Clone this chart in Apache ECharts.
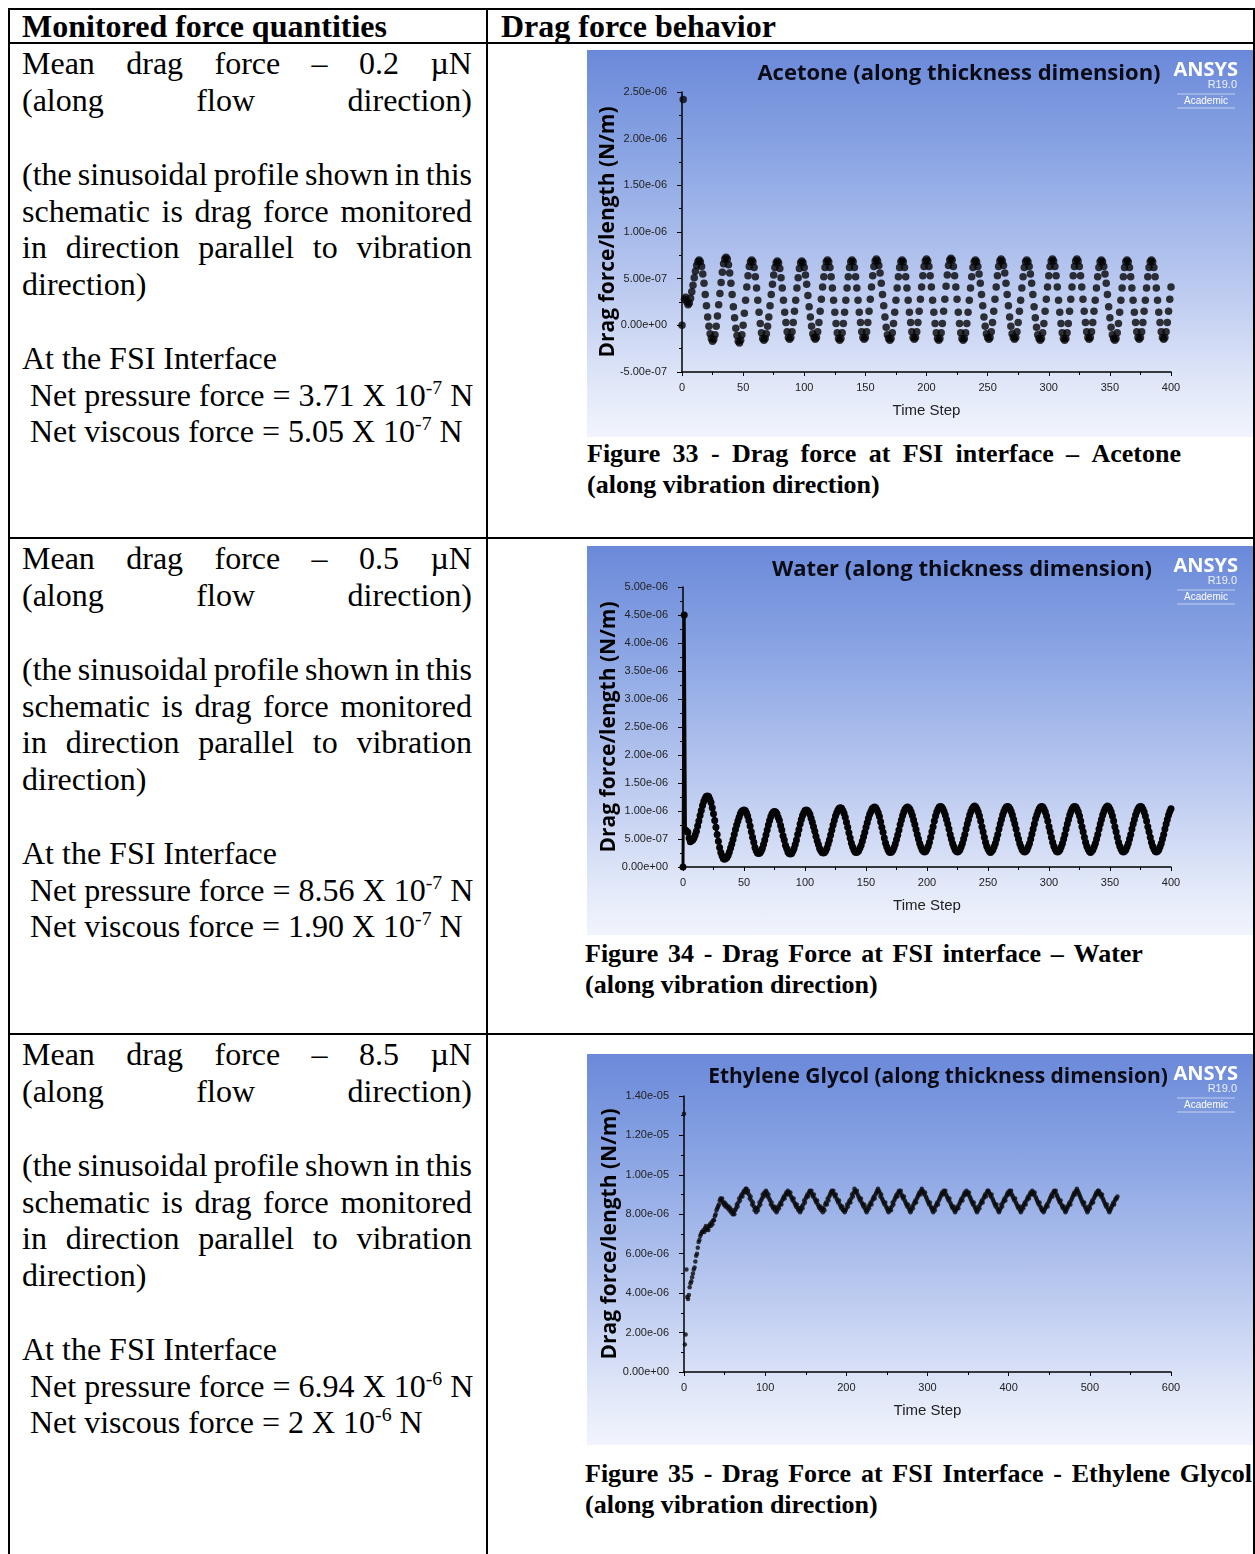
<!DOCTYPE html>
<html>
<head>
<meta charset="utf-8">
<title>Drag force behavior</title>
<script src="https://cdn.jsdelivr.net/npm/echarts/dist/echarts.min.js"></script>
<style>
html,body{margin:0;padding:0;background:#fff;}
body{position:relative;width:1255px;height:1554px;overflow:hidden;font-family:"Liberation Serif","Times New Roman",serif;color:#000;}
.rule{position:absolute;background:#000;z-index:5;}
.ln{position:absolute;white-space:nowrap;font-size:32px;height:37px;line-height:37px;}
.ln.j,.cap.j{display:flex;justify-content:space-between;}
.hd{font-weight:bold;}
.cap{position:absolute;white-space:nowrap;font-weight:bold;font-size:26px;height:30px;line-height:30px;}
sup{font-size:62%;line-height:0;vertical-align:0.62em;}
.panel{position:absolute;left:587px;width:667px;background:linear-gradient(180deg,#6a89d9 0%,#8ca6e4 28%,#b9c8ef 60%,#e3e9f9 88%,#f1f4fc 100%);}
</style>
</head>
<body>
<div class="panel" id="acetone" style="top:50px;height:387px"></div>
<div class="panel" id="water" style="top:546px;height:389px"></div>
<div class="panel" id="glycol" style="top:1054px;height:391px"></div>
<script>
// Drag force per unit length, one value per time step.
// acetone and water in units of 1e-8 N/m, ethylene glycol in units of 1e-7 N/m.
const acetone = [
  0, 242, 28, 30, 25, 22, 24, 29, 36, 43, 51, 58, 64, 68, 70,
  68, 63, 55, 45, 33, 21, 9, -1, -9, -14, -17,
  -15, -10, -1, 10, 22, 34, 46, 57, 66, 71, 73,
  71, 65, 56, 45, 33, 20, 8, -3, -11, -17, -19,
  -16, -10, 0, 13, 27, 41, 53, 63, 68, 70,
  68, 62, 52, 40, 27, 14, 2, -8, -14, -16,
  -14, -9, -1, 9, 21, 33, 44, 54, 62, 67, 69,
  67, 61, 51, 40, 27, 14, 3, -7, -13, -15,
  -13, -7, 3, 15, 27, 40, 51, 61, 67, 69,
  67, 62, 54, 44, 32, 20, 9, -1, -9, -13, -15,
  -13, -7, 3, 15, 28, 41, 52, 62, 68, 70,
  68, 62, 52, 40, 27, 14, 2, -8, -14, -16,
  -14, -8, 2, 14, 27, 40, 52, 62, 68, 70,
  68, 62, 52, 40, 27, 14, 3, -7, -13, -15,
  -13, -7, 3, 15, 28, 41, 53, 63, 69, 71,
  69, 64, 56, 45, 33, 21, 9, -2, -10, -14, -16,
  -14, -8, 2, 14, 27, 40, 52, 62, 68, 70,
  68, 62, 52, 40, 27, 14, 3, -7, -13, -15,
  -13, -7, 3, 15, 28, 41, 53, 63, 69, 71,
  69, 63, 53, 41, 27, 14, 2, -8, -14, -16,
  -14, -8, 2, 15, 28, 42, 54, 64, 70, 72,
  70, 63, 53, 41, 28, 14, 2, -8, -14, -16,
  -14, -8, 2, 14, 27, 40, 52, 62, 68, 70,
  68, 63, 55, 45, 33, 21, 9, -1, -9, -13, -15,
  -13, -7, 3, 15, 28, 41, 53, 63, 69, 71,
  69, 64, 56, 45, 33, 21, 9, -1, -9, -13, -15,
  -13, -7, 3, 15, 27, 40, 52, 62, 68, 70,
  68, 63, 55, 45, 33, 20, 8, -2, -10, -14, -16,
  -14, -8, 2, 15, 28, 41, 53, 63, 69, 71,
  69, 63, 53, 41, 27, 14, 2, -8, -14, -16,
  -14, -8, 2, 15, 28, 41, 53, 63, 69, 71,
  69, 63, 53, 41, 28, 15, 3, -7, -13, -15,
  -13, -7, 3, 15, 27, 40, 52, 62, 68, 70,
  68, 63, 55, 45, 33, 20, 8, -2, -10, -14, -16,
  -14, -8, 2, 14, 27, 40, 52, 62, 68, 70,
  68, 62, 52, 40, 27, 14, 3, -7, -13, -15,
  -13, -7, 3, 15, 27, 40, 52, 62, 68, 70,
  68, 62, 52, 40, 27, 14, 3, -7, -13, -15,
  -13, -7, 3, 15, 28, 41
];

const water = [
  0, 450, 66, 64, 62, 52, 45, 47,
  48, 52, 57, 64, 73, 82, 92, 101, 110, 117, 122, 126, 127,
  126, 121, 115, 106, 95, 83, 71, 58, 46, 35, 26, 20, 15, 14,
  15, 17, 21, 27, 34, 41, 49, 58, 67, 75, 82, 89, 95, 99, 101, 102,
  101, 97, 91, 83, 73, 63, 53, 44, 35, 29, 25, 24,
  25, 28, 33, 40, 48, 57, 66, 75, 83, 90, 95, 98, 99,
  98, 95, 89, 83, 74, 66, 56, 48, 39, 33, 27, 24, 23,
  24, 28, 33, 40, 48, 58, 67, 77, 85, 92, 97, 101, 102,
  101, 98, 94, 87, 80, 72, 64, 55, 47, 40, 33, 29, 26, 25,
  26, 29, 34, 41, 48, 57, 66, 75, 83, 91, 97, 102, 105, 106,
  105, 101, 96, 89, 80, 71, 61, 52, 43, 36, 31, 27, 26,
  27, 29, 34, 39, 46, 54, 62, 71, 79, 87, 94, 99, 104, 106, 107,
  106, 102, 97, 90, 81, 71, 62, 52, 43, 36, 31, 27, 26,
  27, 30, 35, 41, 49, 57, 66, 76, 84, 92, 98, 103, 106, 107,
  106, 103, 98, 92, 84, 76, 67, 58, 50, 42, 36, 31, 28, 27,
  28, 32, 37, 44, 53, 63, 72, 82, 91, 98, 103, 107, 108,
  107, 104, 99, 93, 85, 77, 68, 58, 50, 42, 36, 31, 28, 27,
  28, 31, 36, 42, 50, 58, 68, 77, 85, 93, 99, 104, 107, 109,
  107, 103, 98, 91, 82, 72, 63, 53, 44, 37, 32, 28, 26,
  28, 31, 36, 42, 50, 58, 68, 77, 85, 93, 99, 104, 107, 108,
  107, 104, 99, 93, 85, 77, 68, 58, 50, 42, 36, 31, 28, 27,
  28, 31, 36, 42, 50, 59, 68, 77, 86, 93, 99, 104, 107, 108,
  107, 103, 98, 91, 82, 72, 63, 53, 44, 37, 32, 28, 27,
  28, 31, 36, 42, 50, 58, 68, 77, 85, 93, 99, 104, 107, 108,
  107, 103, 98, 91, 82, 72, 63, 53, 44, 37, 32, 28, 26,
  28, 31, 36, 42, 50, 58, 68, 77, 85, 93, 99, 104, 107, 109,
  107, 103, 98, 91, 82, 72, 63, 53, 44, 37, 32, 28, 27,
  28, 31, 36, 42, 50, 58, 68, 77, 85, 93, 99, 104, 107, 108,
  107, 103, 98, 91, 82, 72, 63, 53, 44, 37, 32, 28, 27,
  28, 31, 36, 42, 50, 58, 68, 77, 85, 93, 99, 104
];

const glycol = [
  131, 14, 19, 52, 38, 37, 39, 43, 45, 46, 48, 50, 52, 53, 56, 59, 60, 63, 66, 67, 69, 70, 71,
  71, 72, 71, 73, 74, 72, 73, 72, 74, 75, 74, 76, 75, 77, 77, 79, 80, 82, 83, 84, 85, 87, 88, 87, 88, 86, 85, 86,
  84, 85, 84, 83, 84, 82, 83, 81, 82, 80, 81, 80,
  82, 83, 85, 84, 86, 88, 87, 89, 90, 89, 91, 92, 91, 93, 93,
  91, 92, 90, 88, 89, 87, 85, 86, 84, 82, 83, 81,
  83, 82, 84, 86, 85, 87, 88, 90, 89, 91, 90, 92,
  91, 89, 90, 88, 87, 85, 86, 84, 83, 84, 82, 83, 81,
  82, 84, 83, 85, 86, 85, 87, 88, 89, 88, 90, 91, 90, 92,
  91, 90, 91, 89, 88, 87, 88, 86, 85, 84, 85, 83, 82, 83, 81,
  82, 84, 83, 85, 87, 86, 88, 89, 90, 89, 91, 92,
  91, 92, 90, 89, 90, 88, 87, 86, 87, 85, 84, 83, 84, 82, 83, 81,
  83, 82, 85, 86, 85, 88, 87, 89, 90, 91, 92,
  91, 92, 90, 89, 90, 88, 87, 86, 87, 85, 84, 83, 84, 82, 82, 81,
  82, 83, 85, 84, 86, 87, 86, 88, 90, 89, 91, 93,
  92, 91, 92, 90, 89, 88, 87, 88, 86, 85, 84, 85, 83, 82, 81,
  82, 84, 83, 85, 86, 85, 87, 88, 89, 88, 90, 91, 92, 93,
  92, 91, 89, 90, 88, 87, 86, 85, 86, 84, 83, 82, 81,
  82, 83, 82, 84, 86, 85, 87, 88, 89, 90, 89, 91, 92,
  91, 92, 90, 89, 88, 89, 87, 86, 85, 84, 85, 83, 82, 81,
  82, 84, 83, 85, 86, 87, 86, 88, 89, 90, 91, 90, 92, 93,
  92, 91, 90, 91, 89, 88, 87, 86, 85, 86, 84, 83, 82, 81,
  83, 82, 84, 85, 86, 85, 87, 88, 89, 90, 91, 90, 92,
  91, 92, 90, 89, 88, 87, 88, 86, 85, 84, 83, 84, 82, 81,
  82, 83, 84, 83, 85, 86, 87, 88, 87, 89, 90, 91, 90, 92,
  91, 90, 91, 89, 88, 87, 86, 85, 86, 84, 83, 82, 81,
  82, 84, 83, 85, 86, 87, 86, 88, 89, 90, 89, 91, 92, 92,
  91, 90, 89, 90, 88, 87, 86, 85, 84, 85, 83, 82, 81,
  82, 83, 85, 84, 86, 87, 88, 87, 89, 90, 91, 90, 92,
  91, 92, 90, 89, 88, 87, 88, 86, 85, 84, 83, 84, 82, 81,
  82, 84, 83, 85, 86, 85, 87, 88, 89, 88, 90, 91, 90, 92,
  91, 90, 91, 89, 88, 87, 86, 85, 86, 84, 83, 82, 82, 81,
  82, 83, 84, 85, 84, 86, 87, 88, 89, 90, 89, 91, 92,
  91, 92, 90, 89, 88, 87, 86, 87, 85, 84, 83, 84, 82, 81,
  82, 83, 84, 85, 86, 85, 87, 88, 89, 90, 91, 90, 92, 93,
  92, 91, 90, 89, 88, 87, 86, 85, 86, 84, 83, 82, 81,
  82, 84, 83, 85, 86, 87, 86, 88, 89, 90, 91, 90, 92, 92,
  91, 90, 89, 90, 88, 87, 86, 85, 84, 85, 83, 82, 81,
  82, 83, 84, 85, 86, 85, 87, 88, 88, 89
];

// Axis ticks
const stepTicks400 = [0, 50, 100, 150, 200, 250, 300, 350, 400];
const stepTicks600 = [0, 100, 200, 300, 400, 500, 600];

// Table text
const fluids = [
  { rowTop: 43,   mean: '0.2', pressure: '3.71', pExp: '-7', viscous: '5.05', vExp: '-7' },
  { rowTop: 538,  mean: '0.5', pressure: '8.56', pExp: '-7', viscous: '1.90', vExp: '-7' },
  { rowTop: 1034, mean: '8.5', pressure: '6.94', pExp: '-6', viscous: '2',    vExp: '-6' }
];
const captions = [
  { x: 587, y: 454, w: 594, first: 'Figure 33 - Drag force at FSI interface – Acetone' },
  { x: 585, y: 954, w: 558, first: 'Figure 34 - Drag Force at FSI interface – Water' },
  { x: 585, y: 1474, w: 667, first: 'Figure 35 - Drag Force at FSI Interface - Ethylene Glycol' }
];

// ---------- table layout ----------
function rule(x, y, w, h) {
  const d = document.createElement('div');
  d.className = 'rule';
  Object.assign(d.style, { left: x + 'px', top: y + 'px', width: w + 'px', height: h + 'px' });
  document.body.appendChild(d);
}
function line(cls, x, yc, w, text, justify, lh) {
  const d = document.createElement('div');
  d.className = cls + (justify ? ' j' : '');
  d.style.left = x + 'px';
  d.style.top = (yc - lh / 2) + 'px';
  if (w) d.style.width = w + 'px';
  if (justify) {
    text.split(' ').forEach(t => {
      const s = document.createElement('span');
      s.innerHTML = t;
      d.appendChild(s);
    });
  } else {
    d.innerHTML = text;
  }
  document.body.appendChild(d);
}

rule(8, 8, 1247, 2);
rule(8, 42, 1247, 2);
rule(8, 537, 1247, 2);
rule(8, 1033, 1247, 2);
rule(8, 8, 2, 1546);
rule(486, 8, 2, 1546);
rule(1253, 8, 2, 1546);

line('ln hd', 22, 26, 0, 'Monitored force quantities', false, 37);
line('ln hd', 501, 26, 0, 'Drag force behavior', false, 37);

fluids.forEach(f => {
  const t = f.rowTop;
  line('ln', 22, t + 20, 450, 'Mean drag force – ' + f.mean + ' µN', true, 37);
  line('ln', 22, t + 57, 450, '(along flow direction)', true, 37);
  line('ln', 22, t + 131, 450, '(the sinusoidal profile shown in this', true, 37);
  line('ln', 22, t + 168, 450, 'schematic is drag force monitored', true, 37);
  line('ln', 22, t + 204, 450, 'in direction parallel to vibration', true, 37);
  line('ln', 22, t + 241, 0, 'direction)', false, 37);
  line('ln', 22, t + 315, 0, 'At the FSI Interface', false, 37);
  line('ln', 30, t + 352, 0, 'Net pressure force = ' + f.pressure + ' X 10<sup>' + f.pExp + '</sup> N', false, 37);
  line('ln', 30, t + 388, 0, 'Net viscous force = ' + f.viscous + ' X 10<sup>' + f.vExp + '</sup> N', false, 37);
});

captions.forEach(c => {
  line('cap', c.x, c.y, c.w, c.first, true, 30);
  line('cap', c.x, c.y + 31, 0, '(along vibration direction)', false, 30);
});

// ---------- charts ----------
function sci(v) {
  if (Math.abs(v) < 1e-12) return '0.00e+00';
  return Number(v).toExponential(2).replace(/e([+-])(\d+)$/, (m, s, d) => 'e' + s + (d.length < 2 ? '0' + d : d));
}

function logo() {
  return [
    { type: 'text', x: 651, y: 20, style: { text: 'ANSYS', fill: '#ffffff', font: 'bold 20px "Open Sans"', align: 'right', verticalAlign: 'middle' } },
    { type: 'text', x: 650, y: 35, style: { text: 'R19.0', fill: '#eef2ff', font: '11px "Liberation Sans"', align: 'right', verticalAlign: 'middle' } },
    { type: 'line', shape: { x1: 590, y1: 44, x2: 648, y2: 44 }, style: { stroke: 'rgba(255,255,255,0.55)', lineWidth: 1 } },
    { type: 'text', x: 619, y: 51, style: { text: 'Academic', fill: '#ffffff', font: '10px "Liberation Sans"', align: 'center', verticalAlign: 'middle' } },
    { type: 'line', shape: { x1: 590, y1: 58, x2: 648, y2: 58 }, style: { stroke: 'rgba(255,255,255,0.55)', lineWidth: 1 } }
  ];
}

function drawChart(id, cfg) {
  const chart = echarts.init(document.getElementById(id), null, { renderer: 'canvas' });
  const ticks = cfg.xTicks;
  chart.setOption({
    animation: false,
    backgroundColor: 'transparent',
    title: {
      text: cfg.title, left: cfg.titleX, top: 8, textAlign: 'center',
      textStyle: { fontFamily: 'Open Sans', fontWeight: 'bold', fontSize: cfg.titleSize, color: '#0b0b16' }
    },
    grid: Object.assign({ containLabel: false, outerBoundsMode: 'none' }, cfg.grid),
    xAxis: {
      type: 'value', min: ticks[0], max: ticks[ticks.length - 1], interval: ticks[1] - ticks[0],
      name: 'Time Step', nameLocation: 'middle', nameGap: 31,
      nameTextStyle: { fontFamily: 'Liberation Sans', fontSize: 15, color: '#222' },
      axisLine: { show: true, onZero: false, lineStyle: { color: '#000', width: 1.5 } },
      axisTick: { show: true, length: 4, lineStyle: { color: '#000' } },
      minorTick: { show: true, splitNumber: 2, length: 3, lineStyle: { color: '#000' } },
      splitLine: { show: false },
      axisLabel: { fontFamily: 'Liberation Sans', fontSize: 11, color: '#222', margin: 10 }
    },
    yAxis: {
      type: 'value', min: cfg.yMin, max: cfg.yMax, interval: cfg.yStep,
      name: 'Drag force/length (N/m)', nameLocation: 'middle', nameGap: 63, nameMoveOverlap: false,
      nameTextStyle: { fontFamily: 'Open Sans', fontWeight: 'bold', fontSize: 21, color: '#000' },
      axisLine: { show: true, onZero: false, lineStyle: { color: '#000', width: 1.5 } },
      axisTick: { show: true, length: 5, lineStyle: { color: '#000' } },
      minorTick: { show: true, splitNumber: 2, length: 3, lineStyle: { color: '#000' } },
      splitLine: { show: false },
      axisLabel: { formatter: sci, fontFamily: 'Liberation Sans', fontSize: 11, color: '#222', margin: 15 }
    },
    graphic: logo(),
    series: [cfg.series]
  });
}

drawChart('acetone', {
  title: 'Acetone (along thickness dimension)', titleX: 367, titleSize: 22,
  grid: { left: 95, right: 83, top: 42, bottom: 65 },
  xTicks: stepTicks400, yMin: -5e-7, yMax: 2.5e-6, yStep: 5e-7,
  series: {
    type: 'scatter', symbol: 'circle', symbolSize: 7.5, silent: true,
    itemStyle: { color: '#050505' },
    data: acetone.map((v, i) => [i, v * 1e-8])
  }
});

drawChart('water', {
  title: 'Water (along thickness dimension)', titleX: 370, titleSize: 22,
  grid: { left: 96, right: 83, top: 41, bottom: 68 },
  xTicks: stepTicks400, yMin: 0, yMax: 5e-6, yStep: 5e-7,
  series: {
    type: 'line', symbol: 'circle', symbolSize: 7, showSymbol: true, showAllSymbol: true, silent: true,
    itemStyle: { color: '#050505' },
    lineStyle: { color: '#050505', width: 3 },
    data: water.map((v, i) => [i, v * 1e-8])
  }
});

drawChart('glycol', {
  title: 'Ethylene Glycol (along thickness dimension)', titleX: 346, titleSize: 21,
  grid: { left: 97, right: 83, top: 42, bottom: 73 },
  xTicks: stepTicks600, yMin: 0, yMax: 1.4e-5, yStep: 2e-6,
  series: {
    type: 'scatter', symbol: 'circle', symbolSize: 4.5, silent: true,
    itemStyle: { color: '#0a0a0a' },
    data: glycol.map((v, i) => [i, v * 1e-7])
  }
});
</script>
</body>
</html>
